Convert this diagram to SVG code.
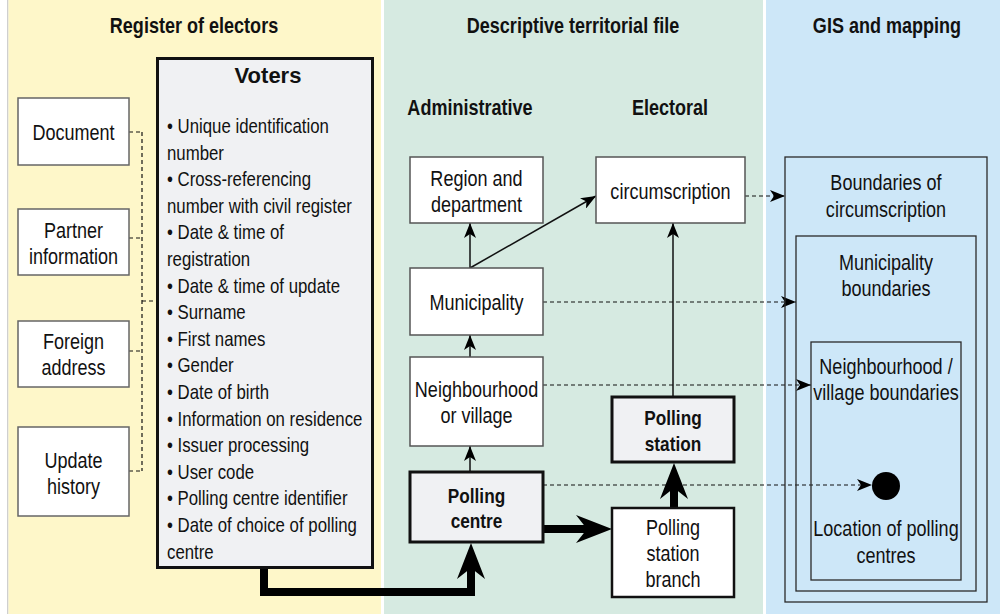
<svg xmlns="http://www.w3.org/2000/svg" width="1000" height="614" viewBox="0 0 1000 614">
<defs>
<style>
text{font-family:'Liberation Sans',Arial,sans-serif;fill:#111;}
.hd{font-size:22px;font-weight:bold;text-anchor:middle;}
.t{font-size:22px;text-anchor:middle;}
.tb{font-size:21px;font-weight:bold;text-anchor:middle;}
.li{font-size:20.5px;}
.box{fill:#fff;stroke:#555;stroke-width:1.5;}
.boxg{fill:#fff;stroke:#666;stroke-width:1.5;}
.boxh{fill:#f0f1f3;stroke:#111;stroke-width:3;}
.gis{fill:none;stroke:#2a2a2a;stroke-width:1.3;}
.ln{fill:none;stroke:#111;stroke-width:1.5;}
.dl{fill:none;stroke:#111;stroke-width:1.2;stroke-dasharray:4 3;}
.heavy{fill:none;stroke:#000;stroke-width:8;}
</style>
<marker id="ah" markerUnits="userSpaceOnUse" markerWidth="15" markerHeight="12" refX="15" refY="6" orient="auto">
<path d="M0,0 L15,6 L0,12 L4,6 z" fill="#000"/>
</marker>
<marker id="hh" markerUnits="userSpaceOnUse" markerWidth="36" markerHeight="28" refX="14" refY="14" orient="auto">
<path d="M0,0 L36,14 L0,28 L11,14 z" fill="#000"/>
</marker>
</defs>

<g id="panels">
<rect x="0" y="0" width="1000" height="614" fill="#ffffff"/>
<rect x="7" y="0" width="1.5" height="614" fill="#cfcfcf"/>
<rect x="8.5" y="0" width="372.5" height="614" fill="#fef7c9"/>
<rect x="384" y="0" width="379" height="614" fill="#d6eae1"/>
<rect x="766" y="0" width="234" height="614" fill="#cde7f8"/>
<g transform="scale(0.82,1)">
<text class="hd" x="236.59" y="33">Register of electors</text>
<text class="hd" x="698.78" y="33">Descriptive territorial file</text>
<text class="hd" x="1081.71" y="33">GIS and mapping</text>
<text class="hd" x="573.17" y="115">Administrative</text>
<text class="hd" x="817.07" y="115">Electoral</text>
</g>
</g>

<g id="connectors">
<path class="dl" d="M129,132 H142 M129,238 H142 M129,351 H142 M129,471 H142 M142,132 V471 M142,301 H157"/>
<path class="ln" d="M470,268 V223" marker-end="url(#ah)"/>
<path class="ln" d="M470,268 L596,196" marker-end="url(#ah)"/>
<path class="ln" d="M470,357 V335" marker-end="url(#ah)"/>
<path class="ln" d="M470,472 V446" marker-end="url(#ah)"/>
<path class="ln" d="M673,397 V223" marker-end="url(#ah)"/>
<path class="dl" d="M745,196 H785" marker-end="url(#ah)"/>
<path class="dl" d="M543,302 H796" marker-end="url(#ah)"/>
<path class="dl" d="M543,385 H811" marker-end="url(#ah)"/>
<path class="dl" d="M543,485 H872" marker-end="url(#ah)"/>
<path class="heavy" d="M264,568 V592 H471 V565" marker-end="url(#hh)"/>
<path class="heavy" d="M543,529 H590" marker-end="url(#hh)"/>
<path class="heavy" d="M674,508 V485" marker-end="url(#hh)"/>
</g>

<g id="document">
<rect class="boxg" x="18" y="98" width="111" height="67"/>
<g transform="scale(0.82,1)"><text class="t" x="89.63" y="140">Document</text></g>
</g>
<g id="partner-information">
<rect class="boxg" x="18" y="209" width="111" height="66"/>
<g transform="scale(0.82,1)">
<text class="t" x="89.63" y="238">Partner</text>
<text class="t" x="89.63" y="264">information</text>
</g>
</g>
<g id="foreign-address">
<rect class="boxg" x="18" y="321" width="111" height="66"/>
<g transform="scale(0.82,1)">
<text class="t" x="89.63" y="349">Foreign</text>
<text class="t" x="89.63" y="375">address</text>
</g>
</g>
<g id="update-history">
<rect class="boxg" x="18" y="427" width="111" height="89"/>
<g transform="scale(0.82,1)">
<text class="t" x="89.63" y="468">Update</text>
<text class="t" x="89.63" y="494">history</text>
</g>
</g>

<g id="voters">
<rect class="boxh" x="157.5" y="58.5" width="215" height="509"/>
<text x="268" y="83" style="font-size:22px;font-weight:bold;text-anchor:middle">Voters</text>
<g transform="scale(0.82,1)">
<text class="li" x="203.66" y="133">• Unique identification</text>
<text class="li" x="203.66" y="159.6">number</text>
<text class="li" x="203.66" y="186.2">• Cross-referencing</text>
<text class="li" x="203.66" y="212.8">number with civil register</text>
<text class="li" x="203.66" y="239.4">• Date &amp; time of</text>
<text class="li" x="203.66" y="266">registration</text>
<text class="li" x="203.66" y="292.6">• Date &amp; time of update</text>
<text class="li" x="203.66" y="319.2">• Surname</text>
<text class="li" x="203.66" y="345.8">• First names</text>
<text class="li" x="203.66" y="372.4">• Gender</text>
<text class="li" x="203.66" y="399">• Date of birth</text>
<text class="li" x="203.66" y="425.6">• Information on residence</text>
<text class="li" x="203.66" y="452.2">• Issuer processing</text>
<text class="li" x="203.66" y="478.8">• User code</text>
<text class="li" x="203.66" y="505.4">• Polling centre identifier</text>
<text class="li" x="203.66" y="532">• Date of choice of polling</text>
<text class="li" x="203.66" y="558.6">centre</text>
</g>
</g>

<g id="region-department">
<rect class="box" x="410" y="157" width="133" height="66"/>
<g transform="scale(0.82,1)">
<text class="t" x="581.10" y="186">Region and</text>
<text class="t" x="581.10" y="212">department</text>
</g>
</g>
<g id="circumscription">
<rect class="box" x="596" y="157" width="149" height="66"/>
<g transform="scale(0.82,1)"><text class="t" x="817.68" y="199">circumscription</text></g>
</g>
<g id="municipality">
<rect class="box" x="410" y="268" width="133" height="67"/>
<g transform="scale(0.82,1)"><text class="t" x="581.10" y="310">Municipality</text></g>
</g>
<g id="neighbourhood">
<rect class="box" x="410" y="357" width="133" height="89"/>
<g transform="scale(0.82,1)">
<text class="t" x="581.10" y="397">Neighbourhood</text>
<text class="t" x="581.10" y="423">or village</text>
</g>
</g>
<g id="polling-centre">
<rect class="boxh" x="410" y="472" width="133" height="70"/>
<g transform="scale(0.82,1)">
<text class="tb" x="581.10" y="503">Polling</text>
<text class="tb" x="581.10" y="528">centre</text>
</g>
</g>
<g id="polling-station">
<rect class="boxh" x="612" y="397" width="122" height="65"/>
<g transform="scale(0.82,1)">
<text class="tb" x="820.73" y="425">Polling</text>
<text class="tb" x="820.73" y="451">station</text>
</g>
</g>
<g id="polling-station-branch">
<rect x="612" y="508" width="122" height="89" fill="#fff" stroke="#111" stroke-width="2.5"/>
<g transform="scale(0.82,1)">
<text class="t" x="820.73" y="535">Polling</text>
<text class="t" x="820.73" y="561">station</text>
<text class="t" x="820.73" y="587">branch</text>
</g>
</g>

<g id="boundaries-circumscription">
<rect class="gis" x="785" y="157" width="202" height="445"/>
<g transform="scale(0.82,1)">
<text class="t" x="1080.49" y="190">Boundaries of</text>
<text class="t" x="1080.49" y="217">circumscription</text>
</g>
</g>
<g id="municipality-boundaries">
<rect class="gis" x="796" y="236" width="180" height="355"/>
<g transform="scale(0.82,1)">
<text class="t" x="1080.49" y="270">Municipality</text>
<text class="t" x="1080.49" y="296">boundaries</text>
</g>
</g>
<g id="neighbourhood-boundaries">
<rect class="gis" x="811" y="342" width="150" height="238"/>
<g transform="scale(0.82,1)">
<text class="t" x="1080.49" y="374">Neighbourhood /</text>
<text class="t" x="1080.49" y="400">village boundaries</text>
</g>
</g>
<g id="polling-centre-locations">
<ellipse cx="886" cy="486" rx="14" ry="14" fill="#000"/>
<g transform="scale(0.82,1)">
<text class="t" x="1080.49" y="536">Location of polling</text>
<text class="t" x="1080.49" y="563">centres</text>
</g>
</g>
</svg>
